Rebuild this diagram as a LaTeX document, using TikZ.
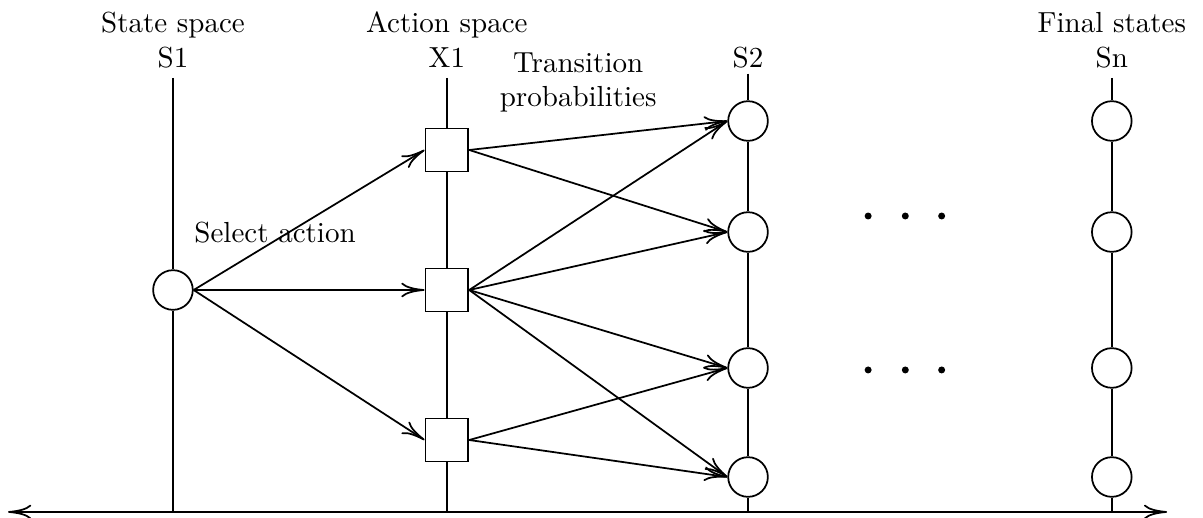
\documentclass[tikz,border=0pt]{standalone}
\usetikzlibrary{positioning, arrows.meta}

\begin{document}
\begin{tikzpicture}[
		>={To[length=8pt, width=5pt]},
		semithick,
		state/.style={draw, circle, minimum size=0.48cm, inner sep=0pt},
		action/.style={draw, rectangle, minimum size=0.52cm, inner sep=0pt},
		lbl/.style={anchor=base, inner sep=0pt}
		]
		\useasboundingbox (0,0) rectangle (14.564,6.271);
		
		% --- Naglowki kolumn ---
		\node[lbl] (s1name) at (2.094,5.872) {State space};
		\node[lbl] (s1lab) at (2.094,5.448) {S1};
		\node[lbl] (x1name) at (5.41,5.872) {Action space};
		\node[lbl] (x1lab) at (5.41,5.448) {X1};
		\node[lbl] (s2lab) at (9.056,5.448) {S2};
		\node[lbl] (snname) at (13.46,5.872) {Final states};
		\node[lbl] (snlab) at (13.46,5.448) {Sn};
		\node[lbl, align=center] (trans) at (7.0,4.976) {Transition\\probabilities};
		\node[lbl] (select) at (3.33,3.341) {Select action};
		
		% --- Os czasu ---
		\coordinate (axl) at (0.097,0.073);
		\coordinate (axr) at (14.13,0.073);
		\draw[<->] (axl) -- (axr);
		
		% --- Stan poczatkowy i akcje ---
		\node[state] (s1) at (2.094,2.76) {};
		\node[action] (x1) at (5.41,4.455) {};
		\node[action] (x2) at (5.41,2.76) {};
		\node[action] (x3) at (5.41,0.944) {};
		
		% --- Stany S2 i stany koncowe ---
		\foreach \i/\y in {1/4.806, 2/3.462, 3/1.816, 4/0.496} {
			\node[state] (a\i) at (9.056,\y) {};
			\node[state] (f\i) at (13.46,\y) {};
		}
		
		% --- Linie kolumn ---
		\coordinate (s1top) at (2.094,5.327);
		\coordinate (x1top) at (5.41,5.327);
		\coordinate (s2top) at (9.056,5.38);
		\coordinate (sntop) at (13.46,5.327);
		\draw (s1top) -- (s1) -- (s1top |- axl);
		\draw (x1top) -- (x1) -- (x2) -- (x3) -- (x1top |- axl);
		\draw (s2top) -- (a1) -- (a2) -- (a3) -- (a4) -- (s2top |- axl);
		\draw (sntop) -- (f1) -- (f2) -- (f3) -- (f4) -- (sntop |- axl);
		
		% --- Wybor akcji ---
		\draw[->] (s1.east) -- (x1.west);
		\draw[->] (s1.east) -- (x2.west);
		\draw[->] (s1.east) -- (x3.west);
		
		% --- Prawdopodobienstwa przejsc ---
		\draw[->] (x1.east) -- (a1.west);
		\draw[->] (x1.east) -- (a2.west);
		\draw[->] (x2.east) -- (a1.west);
		\draw[->] (x2.east) -- (a2.west);
		\draw[->] (x2.east) -- (a3.west);
		\draw[->] (x2.east) -- (a4.west);
		\draw[->] (x3.east) -- (a3.west);
		\draw[->] (x3.east) -- (a4.west);
		
		% --- Kropki ---
		\foreach \x in {10.51, 10.96, 11.40} {
			\fill (\x,3.656) circle (1.2pt);
			\fill (\x,1.792) circle (1.2pt);
		}
		
	\end{tikzpicture}
\end{document}
